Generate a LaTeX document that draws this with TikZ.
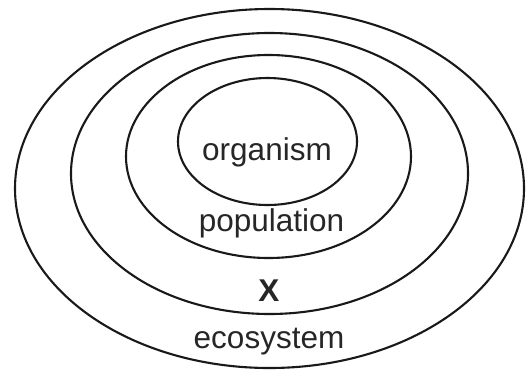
\documentclass[tikz,border=0pt]{standalone}
\usepackage{fontspec}
\setmainfont{Liberation Sans}
\begin{document}
\begin{tikzpicture}[x=1pt,y=-1pt,
  ring/.style={draw=black!90,line width=2.1pt},
  lbl/.style={anchor=base,inner sep=0pt,font=\fontsize{31.5}{37}\selectfont,text=black!85}]
\useasboundingbox (0,0) rectangle (527,370);
\draw[ring] (269.5,188.5) ellipse [x radius=254.5, y radius=179.5];
\draw[ring] (269.5,173.5) ellipse [x radius=198.5, y radius=140.5];
\draw[ring] (268.5,156.5) ellipse [x radius=142.5, y radius=101.5];
\draw[ring] (267.5,141.5) ellipse [x radius=89.5, y radius=63.5];
\node[lbl] (org) at (267,160) {organism};
\node[lbl] (pop) at (271.5,231.5) {population};
\node[lbl,font=\fontsize{31.5}{37}\selectfont\bfseries] (x) at (269,301.5) {X};
\node[lbl] (eco) at (269,348) {ecosystem};
\end{tikzpicture}
\end{document}
